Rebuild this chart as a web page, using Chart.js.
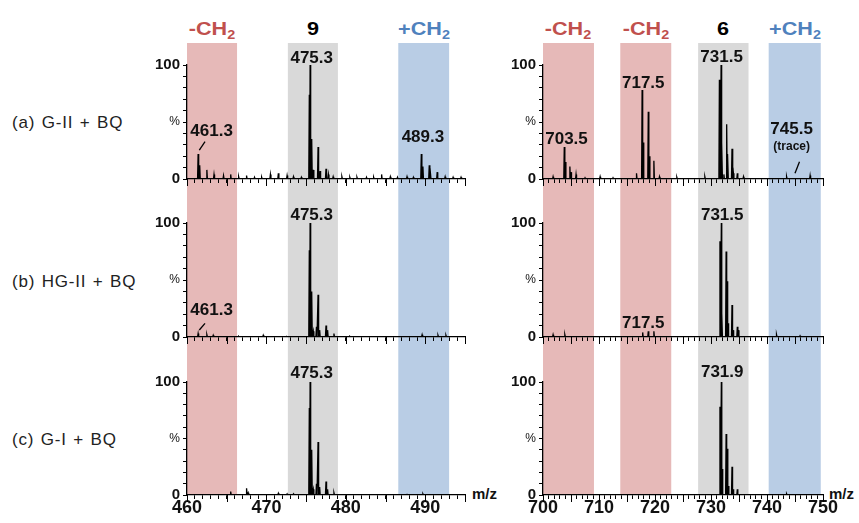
<!DOCTYPE html>
<html lang="en">
<head>
<meta charset="UTF-8">
<title>ESI-MS spectra: 9 and 6 with BQ</title>
<script src="https://cdn.jsdelivr.net/npm/chart.js@4.4.0/dist/chart.umd.min.js"></script>
<style>
  body { margin: 0; background: #fff; font-family: "Liberation Sans", Arial, sans-serif; }
  #page { position: relative; width: 859px; height: 523px; overflow: hidden; }
  #page canvas { position: absolute; }
  .txt { position: absolute; white-space: nowrap; line-height: 20px; }
  .head { top: 19px; font-size: 18px; font-weight: bold; transform: translateX(-50%) scaleX(1.2); }
  .head span { font-size: 12px; position: relative; top: 4px; }
  .row { left: 12px; font-size: 17px; color: #222; letter-spacing: 0.8px; word-spacing: 1px; }
  .mz { font-size: 15px; font-weight: bold; color: #111; }
</style>
</head>
<body>
<div id="page">
  <div class="txt row" style="top:113px">(a) G-II + BQ</div>
  <div class="txt row" style="top:272px">(b) HG-II + BQ</div>
  <div class="txt row" style="top:430px">(c) G-I + BQ</div>
  <div class="txt mz" style="left:472px;top:484px">m/z</div>
  <div class="txt mz" style="left:829px;top:484px">m/z</div>
</div>
<script>
// m/z windows
const leftRange = [460, 495];
const rightRange = [700, 750];
// shaded windows (m/z from, m/z to) and what they stand for
const leftBands = [[460, 466.3], [472.7, 479.0], [486.6, 493.0]];
const leftBandKinds = ['minus', 'parent', 'plus'];
const leftHeads = ['-CH', '9', '+CH'];
const rightBands = [[700, 709.1], [713.8, 722.9], [727.7, 736.7], [740.3, 749.6]];
const rightBandKinds = ['minus', 'minus', 'parent', 'plus'];
const rightHeads = ['-CH', '-CH', '6', '+CH'];

// (a) G-II + BQ
const aLeftMz = [461.4, 461.6, 462.5, 463.4, 464.6, 465.5, 466.5, 467.5, 468.5, 469.4, 470.5, 471.5, 472.6, 473.4, 474.4,
  475.4, 475.5, 475.7, 475.9, 476.5, 476.75, 477.5, 477.8, 478.4, 479.5, 480.5, 481.4, 482.6, 483.5, 484.5, 485.6,
  486.5, 487.7, 488.5, 489.5, 489.7, 490.5, 490.65, 491.5, 492.5, 493.5, 494.5];
const aLeftInt = [22, 12, 8, 4, 3, 4, 2, 3, 1.5, 1.5, 4, 5, 3, 2, 1.5,
  74, 100, 35, 8, 28, 7, 9, 4, 2, 2, 1.5, 1.5, 1.5, 1.5, 4, 2,
  1.5, 2, 1.5, 22, 11, 12, 5, 6, 2, 1.5, 1.5];
const aRightMz = [701.8, 703.8, 704.0, 704.8, 705.0, 705.9, 707.5, 710.2, 712.5, 716.7, 717.7, 717.9, 718.8, 719.0,
  719.8, 720.8, 723.9, 728.9, 731.5, 731.8, 731.95, 732.3, 732.8, 733.0, 733.75, 734.0, 734.7, 735.8, 743.5, 747.7];
const aRightInt = [2, 28, 15, 11, 6, 4, 1, 2, 1, 5, 78, 32, 59, 20,
  16, 2, 1.5, 2, 87, 100, 32, 4, 48, 22, 26.5, 5, 5, 2, 2, 3];

// (b) HG-II + BQ
const bLeftMz = [461.4, 462.5, 463.3, 466.5, 469.6, 472.5, 475.4, 475.5, 475.7, 475.9, 476.3, 476.5, 476.7, 477.5,
  477.7, 478.5, 480.5, 489.6, 491.6, 492.6];
const bLeftInt = [3, 2, 1.5, 0.5, 1.5, 0.5, 76, 100, 40, 5, 9, 37, 6, 10, 6, 3, 0.5, 2, 1.5, 1.5];
const bRightMz = [701.8, 703.9, 717.8, 718.8, 719.8, 731.6, 731.85, 731.95, 732.7, 732.9, 733.05, 733.75, 733.95,
  734.7, 734.9, 741.7, 745.9];
const bRightInt = [2, 2, 4, 5, 5, 84, 100, 21, 75, 49, 12, 28, 6, 9, 6, 2, 1];

// (c) G-I + BQ
const cLeftMz = [465.5, 467.5, 467.7, 471.5, 472.6, 473.4, 475.4, 475.5, 475.7, 475.9, 476.3, 476.5, 476.7, 477.5,
  477.7, 478.5, 487.7, 489.7];
const cLeftInt = [3, 6, 2, 1.5, 1, 1, 77, 100, 40, 5, 10, 47, 7, 12, 5, 2, 0.5, 1];
const cRightMz = [731.6, 731.85, 732.0, 732.7, 732.9, 733.1, 733.75, 733.95, 734.7, 743.5];
const cRightInt = [78, 100, 23, 54, 41, 8, 25, 5, 5, 1];

// peak labels: text, m/z, intensity where the text sits
const aLeftNotes = [['461.3', 463.1, 41.5], ['475.3', 475.7, 106], ['489.3', 489.7, 37]];
const aRightNotes = [['703.5', 704.2, 35], ['717.5', 717.9, 84], ['731.5', 731.9, 107], ['745.5', 744.4, 43.6], ['(trace)', 744.4, 28]];
const bLeftNotes = [['461.3', 463.1, 23], ['475.3', 475.7, 107]];
const bRightNotes = [['717.5', 717.9, 12], ['731.5', 732.0, 107]];
const cLeftNotes = [['475.3', 475.7, 107.7]];
const cRightNotes = [['731.9', 732.0, 109]];
// leader lines: m/z from, % from, m/z to, % to
const aLeftLeads = [[461.55, 25.4, 462.27, 32.7]];
const aRightLeads = [[745.0, 5, 745.8, 15.2]];
const bLeftLeads = [[461.55, 6.1, 462.27, 12]];

const bandColors = { minus: '#e6b9b8', parent: '#d9d9d9', plus: '#b9cde5' };
const headColors = { minus: '#c0504d', parent: '#000', plus: '#4f81bd' };

Chart.defaults.font.family = '"Liberation Sans", Arial, sans-serif';
Chart.defaults.color = '#111';

const cols = {
  left: { x: 140, w: 340, yw: 47, padR: 15, range: leftRange, bands: leftBands, kinds: leftBandKinds, heads: leftHeads, hw: 0.07 },
  right: { x: 500, w: 359, yw: 43, padR: 36, range: rightRange, bands: rightBands, kinds: rightBandKinds, heads: rightHeads, hw: 0.09 }
};
const rows = [
  { y: 43, h: 158, xh: 22 },
  { y: 201, h: 159, xh: 23 },
  { y: 360, h: 163, xh: 28, last: true }
];

const page = document.getElementById('page');

// band headers above the columns
Object.values(cols).forEach(c => {
  const pxPer = (c.w - c.yw - c.padR) / (c.range[1] - c.range[0]);
  c.bands.forEach((b, i) => {
    const d = document.createElement('div');
    d.className = 'txt head';
    d.style.left = (c.x + c.yw + ((b[0] + b[1]) / 2 - c.range[0]) * pxPer) + 'px';
    d.style.color = headColors[c.kinds[i]];
    d.textContent = c.heads[i];
    if (c.kinds[i] !== 'parent') {
      const s = document.createElement('span');
      s.textContent = '2';
      d.appendChild(s);
    }
    page.appendChild(d);
  });
});

function spikes(mz, inten, hw) {
  const pts = [];
  mz.forEach((m, i) => {
    pts.push({ x: m - hw, y: 0 }, { x: m, y: inten[i] }, { x: m + hw, y: 0 });
  });
  return pts;
}

function makePanel(col, row, mz, inten, notes, leads) {
  const c = cols[col];
  const r = rows[row];
  const cv = document.createElement('canvas');
  cv.width = c.w;
  cv.height = r.h;
  cv.style.left = c.x + 'px';
  cv.style.top = r.y + 'px';
  page.appendChild(cv);

  const bandPlugin = {
    id: 'bands',
    beforeDraw(chart) {
      const ctx = chart.ctx, xs = chart.scales.x;
      const bottom = r.last ? chart.chartArea.bottom : chart.height;
      c.bands.forEach((b, i) => {
        const x0 = xs.getPixelForValue(b[0]), x1 = xs.getPixelForValue(b[1]);
        ctx.fillStyle = bandColors[c.kinds[i]];
        ctx.fillRect(x0, 0, x1 - x0, bottom);
      });
    }
  };

  const notePlugin = {
    id: 'notes',
    afterDraw(chart) {
      const ctx = chart.ctx, xs = chart.scales.x, ys = chart.scales.y;
      const a = chart.chartArea;
      ctx.save();
      // longer ticks every 5 units
      ctx.strokeStyle = '#000';
      ctx.lineWidth = 1;
      for (let v = c.range[0]; v <= c.range[1]; v += 5) {
        const px = Math.round(xs.getPixelForValue(v)) + 0.5;
        ctx.beginPath();
        ctx.moveTo(px, a.bottom);
        ctx.lineTo(px, a.bottom + 7);
        ctx.stroke();
      }
      ctx.fillStyle = '#111';
      ctx.textAlign = 'center';
      ctx.textBaseline = 'middle';
      notes.forEach(n => {
        ctx.font = (n[0] === '(trace)' ? 'bold 12px ' : 'bold 17px ') + Chart.defaults.font.family;
        ctx.fillText(n[0], xs.getPixelForValue(n[1]), ys.getPixelForValue(n[2]));
      });
      ctx.lineWidth = 1.3;
      leads.forEach(l => {
        ctx.beginPath();
        ctx.moveTo(xs.getPixelForValue(l[0]), ys.getPixelForValue(l[1]));
        ctx.lineTo(xs.getPixelForValue(l[2]), ys.getPixelForValue(l[3]));
        ctx.stroke();
      });
      ctx.restore();
    }
  };

  return new Chart(cv.getContext('2d'), {
    type: 'line',
    data: {
      datasets: [{
        data: spikes(mz, inten, c.hw),
        borderColor: '#000',
        borderWidth: 1.3,
        pointRadius: 0,
        tension: 0,
        fill: false
      }]
    },
    options: {
      responsive: false,
      animation: false,
      events: [],
      layout: { padding: { top: 22, right: c.padR, left: 0, bottom: 0 } },
      plugins: { legend: { display: false }, tooltip: { enabled: false } },
      scales: {
        x: {
          type: 'linear',
          min: c.range[0],
          max: c.range[1],
          afterFit: s => { s.height = r.xh; },
          border: { color: '#000', width: 1.3 },
          grid: { drawOnChartArea: false, drawTicks: true, tickLength: 4, color: '#000', lineWidth: 1 },
          ticks: {
            display: !!r.last,
            stepSize: 1,
            autoSkip: false,
            maxRotation: 0,
            padding: -2,
            color: '#111',
            font: { size: 18, weight: 'bold' },
            callback: v => (v % 10 === 0 ? String(v) : '')
          }
        },
        y: {
          min: 0,
          max: 100,
          afterFit: s => { s.width = c.yw; },
          border: { color: '#000', width: 1.3 },
          grid: { drawOnChartArea: false, drawTicks: true, tickLength: 4, color: '#000', lineWidth: 1 },
          ticks: {
            stepSize: 10,
            autoSkip: false,
            padding: 3,
            color: '#111',
            font: ctx => (ctx.tick && ctx.tick.value === 50 ? { size: 12, weight: 'normal' } : { size: 15, weight: 'bold' }),
            callback: v => (v === 0 ? '0' : v === 50 ? '%' : v === 100 ? '100' : '')
          }
        }
      }
    },
    plugins: [bandPlugin, notePlugin]
  });
}

makePanel('left', 0, aLeftMz, aLeftInt, aLeftNotes, aLeftLeads);
makePanel('right', 0, aRightMz, aRightInt, aRightNotes, aRightLeads);
makePanel('left', 1, bLeftMz, bLeftInt, bLeftNotes, bLeftLeads);
makePanel('right', 1, bRightMz, bRightInt, bRightNotes, []);
makePanel('left', 2, cLeftMz, cLeftInt, cLeftNotes, []);
makePanel('right', 2, cRightMz, cRightInt, cRightNotes, []);
</script>
</body>
</html>
